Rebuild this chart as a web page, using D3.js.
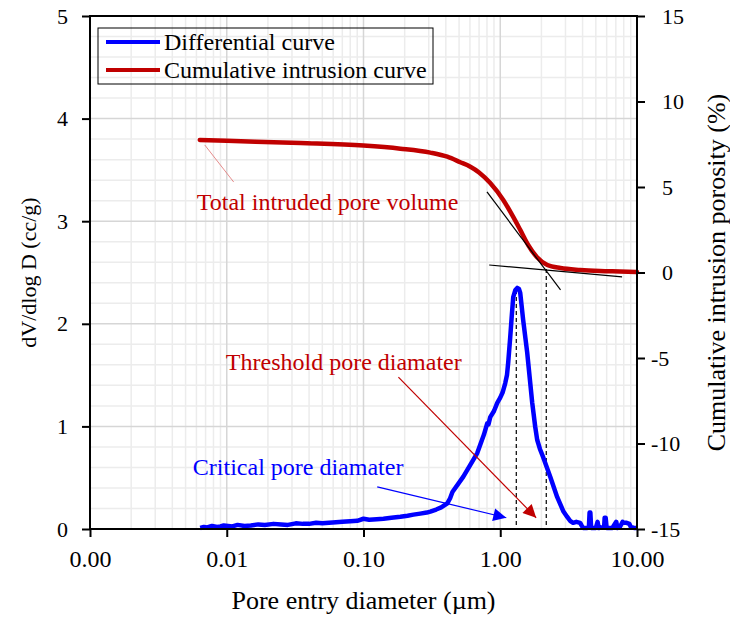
<!DOCTYPE html>
<html>
<head>
<meta charset="utf-8">
<script src="https://d3js.org/d3.v7.min.js"></script>
<style>
  body { margin: 0; background: #fff; }
  svg text { font-family: "Liberation Serif", "Times New Roman", serif; }
</style>
</head>
<body>
<svg id="chart"></svg>
<script>
// differential curve: pore diameter (um) vs dV/dlog D (cc/g)
const diffD = [0.0064, 0.0068, 0.0072, 0.0078, 0.0085, 0.009, 0.0095, 0.0102, 0.011, 0.012, 0.0135, 0.015, 0.017, 0.019,
  0.022, 0.025, 0.028, 0.032, 0.036, 0.04, 0.045, 0.05, 0.056, 0.063, 0.07, 0.08, 0.09, 0.1, 0.11, 0.125, 0.14, 0.16,
  0.186, 0.21, 0.232, 0.26, 0.29, 0.308, 0.34, 0.37, 0.41, 0.43, 0.447, 0.537, 0.679, 0.76, 0.803, 0.82, 0.845, 0.9,
  0.951, 1.0, 1.04, 1.087, 1.12, 1.143, 1.183, 1.21, 1.244, 1.29, 1.331, 1.37, 1.4, 1.47, 1.574, 1.713, 1.8, 1.862,
  1.95, 2.06, 2.32, 2.61, 2.9, 3.08, 3.24, 3.41, 3.6, 3.84, 3.95, 4.03, 4.3, 4.45, 4.5, 4.56, 4.62, 5.0, 5.15, 5.25,
  5.75, 5.8, 5.9, 6.0, 6.6, 7.05, 7.2, 7.5, 7.85, 8.0, 8.4, 8.8, 9.0, 9.5, 10];
const diffV = [0.01, 0.02, 0.015, 0.03, 0.02, 0.025, 0.035, 0.03, 0.025, 0.04, 0.03, 0.035, 0.045, 0.04,
  0.05, 0.045, 0.04, 0.055, 0.05, 0.05, 0.06, 0.055, 0.06, 0.065, 0.07, 0.075, 0.08, 0.1, 0.09, 0.095, 0.1, 0.11,
  0.12, 0.13, 0.14, 0.15, 0.16, 0.17, 0.19, 0.21, 0.25, 0.3, 0.36, 0.51, 0.74, 0.92, 1.03, 1.02, 1.09, 1.15,
  1.23, 1.28, 1.33, 1.42, 1.5, 1.62, 1.87, 2.05, 2.26, 2.33, 2.35, 2.34, 2.3, 2.04, 1.72, 1.23, 1.0, 0.87,
  0.78, 0.7, 0.51, 0.31, 0.17, 0.12, 0.08, 0.06, 0.07, 0.06, 0.03, 0.01, 0.01, 0.02, 0.16, 0.16, 0.01, 0.01, 0.07, 0.01,
  0.02, 0.11, 0.11, 0.01, 0.01, 0.07, 0.01, 0.02, 0.07, 0.06, 0.06, 0.05, 0.02, 0.01, 0.01];

// cumulative intrusion curve: pore diameter (um) vs porosity (%)
const cumD = [0.00635, 0.01, 0.0347, 0.1, 0.186, 0.308, 0.41, 0.51, 0.6, 0.7, 0.845, 1.052, 1.244, 1.4, 1.6, 1.85,
  2.21, 2.76, 3.84, 5.37, 7.5, 10];
const cumP = [7.75, 7.7, 7.57, 7.42, 7.24, 7.01, 6.77, 6.45, 6.2, 5.85, 5.23, 4.24, 3.25, 2.49, 1.61, 0.91,
  0.44, 0.26, 0.15, 0.09, 0.06, 0.03];

const xTicks = [0.001, 0.01, 0.1, 1, 10];
const yLeftTicks = [0, 1, 2, 3, 4, 5];
const yRightTicks = [-15, -10, -5, 0, 5, 10, 15];

// tangent lines on the cumulative curve [d, %]
const tangents = [[[0.80, 4.71], [2.76, -1.02]], [[0.83, 0.44], [7.78, -0.26]]];
const criticalD = 1.31, criticalTop = 2.33;   // left axis
const thresholdD = 2.17, thresholdTop = 0.2;  // right axis

const margin = {top: 16, right: 93, bottom: 88, left: 90},
  width = 730 - margin.left - margin.right,
  height = 617 - margin.top - margin.bottom;

const svg = d3.select("#chart")
  .attr("width", width + margin.left + margin.right)
  .attr("height", height + margin.top + margin.bottom);

const g = svg.append("g").attr("transform", `translate(${margin.left},${margin.top})`);

const x = d3.scaleLog().domain([0.001, 10]).range([0, width]);
const y = d3.scaleLinear().domain([0, 5]).range([height, 0]);
const y2 = d3.scaleLinear().domain([-15, 15]).range([height, 0]);

// grid
const minorX = [];
[0.001, 0.01, 0.1, 1].forEach(e => { for (let k = 2; k <= 9; k++) minorX.push(e * k); });
const minorY = d3.range(0, 5.01, 0.2).filter(v => Math.abs(v - Math.round(v)) > 0.01);

g.selectAll(".minor-x").data(minorX).enter().append("line")
  .attr("x1", d => x(d)).attr("x2", d => x(d)).attr("y1", 0).attr("y2", height)
  .attr("stroke", "#ececec").attr("stroke-width", 1.5);
g.selectAll(".minor-y").data(minorY).enter().append("line")
  .attr("x1", 0).attr("x2", width).attr("y1", d => y(d)).attr("y2", d => y(d))
  .attr("stroke", "#ececec").attr("stroke-width", 1.5);
g.selectAll(".major-x").data(xTicks).enter().append("line")
  .attr("x1", d => x(d)).attr("x2", d => x(d)).attr("y1", 0).attr("y2", height)
  .attr("stroke", "#d6d6d6").attr("stroke-width", 1.5);
g.selectAll(".major-y").data(yLeftTicks).enter().append("line")
  .attr("x1", 0).attr("x2", width).attr("y1", d => y(d)).attr("y2", d => y(d))
  .attr("stroke", "#d6d6d6").attr("stroke-width", 1.5);

// markers
const defs = svg.append("defs");
[["arrRed", "#c00000"], ["arrBlue", "#0000ff"]].forEach(([id, c]) => {
  defs.append("marker").attr("id", id)
    .attr("viewBox", "0 0 10 10").attr("refX", 10).attr("refY", 5)
    .attr("markerUnits", "userSpaceOnUse")
    .attr("markerWidth", 17).attr("markerHeight", 13).attr("orient", "auto")
    .append("path").attr("d", "M0,0 L10,5 L0,10 Z").attr("fill", c);
});

// dashed lines
g.append("line")
  .attr("x1", x(criticalD)).attr("x2", x(criticalD))
  .attr("y1", y(criticalTop)).attr("y2", y(0))
  .attr("stroke", "#000").attr("stroke-width", 1.2).attr("stroke-dasharray", "4,3");
g.append("line")
  .attr("x1", x(thresholdD)).attr("x2", x(thresholdD))
  .attr("y1", y2(thresholdTop)).attr("y2", y(0))
  .attr("stroke", "#000").attr("stroke-width", 1.2).attr("stroke-dasharray", "4,3");

// curves
const diffData = diffD.map((d, i) => [d, diffV[i]]);
const cumData = cumD.map((d, i) => [d, cumP[i]]);

g.append("path").datum(diffData)
  .attr("fill", "none").attr("stroke", "#0000ff").attr("stroke-width", 4.5)
  .attr("stroke-linejoin", "round")
  .attr("d", d3.line().x(d => x(d[0])).y(d => y(d[1])));

g.append("path").datum(cumData)
  .attr("fill", "none").attr("stroke", "#c00000").attr("stroke-width", 4.5)
  .attr("stroke-linecap", "round")
  .attr("d", d3.line().curve(d3.curveMonotoneX).x(d => x(d[0])).y(d => y2(d[1])));

// tangents
g.selectAll(".tangent").data(tangents).enter().append("line")
  .attr("x1", d => x(d[0][0])).attr("y1", d => y2(d[0][1]))
  .attr("x2", d => x(d[1][0])).attr("y2", d => y2(d[1][1]))
  .attr("stroke", "#000").attr("stroke-width", 1.2);

// annotations
g.append("line")
  .attr("x1", x(0.01124)).attr("y1", y2(5.29))
  .attr("x2", x(0.0069)).attr("y2", y2(7.46))
  .attr("stroke", "#e07070").attr("stroke-width", 0.8);
g.append("text").attr("x", x(0.00604)).attr("y", y(3.11))
  .attr("fill", "#c00000").style("font-size", "24px").text("Total intruded pore volume");

g.append("line")
  .attr("x1", x(0.18)).attr("y1", y(1.48))
  .attr("x2", x(1.83)).attr("y2", y(0.11))
  .attr("stroke", "#c00000").attr("stroke-width", 1.2).attr("marker-end", "url(#arrRed)");
g.append("text").attr("x", x(0.00985)).attr("y", y(1.55))
  .attr("fill", "#c00000").style("font-size", "24px").text("Threshold pore diamater");

g.append("line")
  .attr("x1", x(0.126)).attr("y1", y(0.41))
  .attr("x2", x(1.107)).attr("y2", y(0.11))
  .attr("stroke", "#0000ff").attr("stroke-width", 1.2).attr("marker-end", "url(#arrBlue)");
g.append("text").attr("x", x(0.00565)).attr("y", y(0.53))
  .attr("fill", "#0000ff").style("font-size", "24px").text("Critical pore diamater");

// axes
g.append("rect").attr("width", width).attr("height", height)
  .attr("fill", "none").attr("stroke", "#000").attr("stroke-width", 2);

const xAxis = g.append("g")
  .attr("transform", `translate(0,${height})`)
  .call(d3.axisBottom(x).tickValues(xTicks).tickFormat(d3.format(".2f")).tickSize(8).tickPadding(13));
const yAxis = g.append("g")
  .call(d3.axisLeft(y).tickValues(yLeftTicks).tickFormat(d3.format("d")).tickSize(8).tickPadding(14));
const yAxis2 = g.append("g")
  .attr("transform", `translate(${width},0)`)
  .call(d3.axisRight(y2).tickValues(yRightTicks).tickFormat(d3.format("d")).tickSize(8).tickPadding(17));

[xAxis, yAxis, yAxis2].forEach(a => {
  a.select(".domain").remove();
  a.selectAll(".tick line").attr("stroke", "#000").attr("stroke-width", 2);
  a.selectAll(".tick text").attr("fill", "#000").style("font-size", "22px")
    .style("font-family", '"Liberation Serif", "Times New Roman", serif');
});
xAxis.selectAll(".tick text").style("font-size", "24px");
yAxis2.selectAll(".tick text").attr("x", d => d < 0 ? 25 - 11 : 25).text(d => d < 0 ? "-" + Math.abs(d) : d);

// axis titles
svg.append("text")
  .attr("transform", `translate(36, ${margin.top + height / 2}) rotate(-90)`)
  .attr("text-anchor", "middle").style("font-size", "22px")
  .text("dV/dlog D (cc/g)");
svg.append("text")
  .attr("transform", `translate(725, ${margin.top + height / 2}) rotate(-90)`)
  .attr("text-anchor", "middle").style("font-size", "26px")
  .text("Cumulative intrusion porosity (%)");
svg.append("text")
  .attr("x", margin.left + width / 2).attr("y", 609)
  .attr("text-anchor", "middle").style("font-size", "26px")
  .text("Pore entry diameter (\u00b5m)");

// legend
const legend = g.append("g").attr("transform", "translate(8,12)");
legend.append("rect").attr("width", 335).attr("height", 56)
  .attr("fill", "none").attr("stroke", "#000").attr("stroke-width", 1);
const legendItems = [["Differential curve", "#0000ff"], ["Cumulative intrusion curve", "#c00000"]];
legendItems.forEach(([label, c], i) => {
  legend.append("line").attr("x1", 8).attr("x2", 62)
    .attr("y1", 14 + i * 28).attr("y2", 14 + i * 28)
    .attr("stroke", c).attr("stroke-width", 4);
  legend.append("text").attr("x", 66).attr("y", 22 + i * 28)
    .style("font-size", "24px").text(label);
});
</script>
</body>
</html>
